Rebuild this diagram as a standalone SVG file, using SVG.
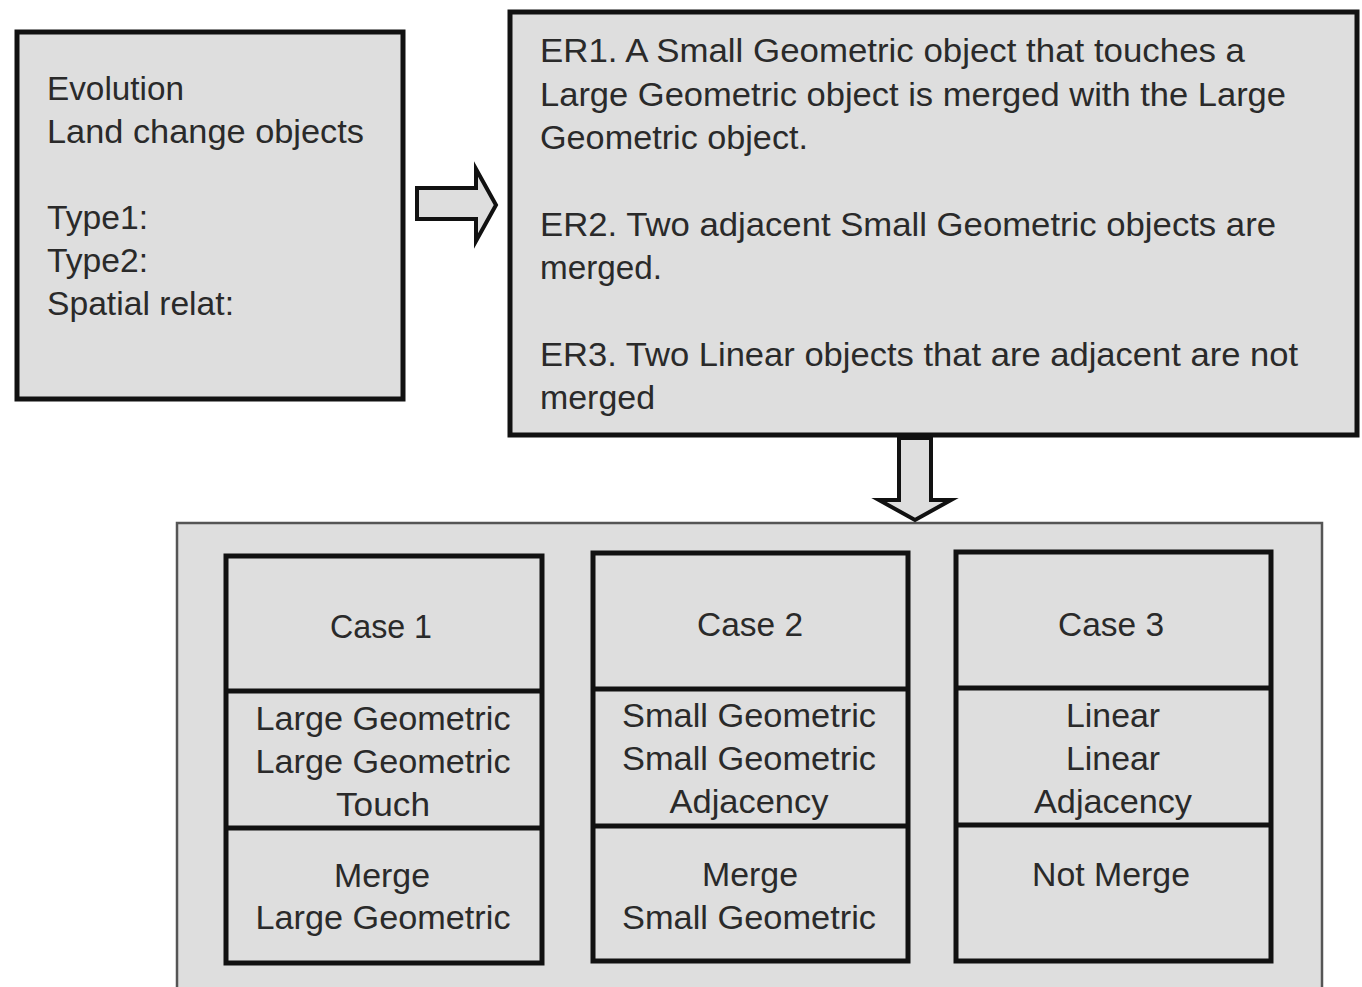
<svg xmlns="http://www.w3.org/2000/svg" width="1362" height="987" viewBox="0 0 1362 987">
<style>
  .box{fill:#dedede;stroke:#111;stroke-width:5}
  .outer{fill:#dedede;stroke:#555;stroke-width:2.5}
  .arr{fill:#dedede;stroke:#111;stroke-width:4;stroke-linejoin:miter}
  text{font-family:"Liberation Sans",Arial,sans-serif;font-size:33px;fill:#2a2a2a}
  .c{text-anchor:middle}
</style>
<rect width="1362" height="987" fill="#ffffff"/>
<g id="evolution">
  <rect class="box" x="17" y="32" width="386" height="367"/>
  <text x="47" y="100" textLength="137" lengthAdjust="spacingAndGlyphs">Evolution</text>
  <text x="47" y="143" textLength="317" lengthAdjust="spacingAndGlyphs">Land change objects</text>
  <text x="47" y="229" textLength="101" lengthAdjust="spacingAndGlyphs">Type1:</text>
  <text x="47" y="272" textLength="101" lengthAdjust="spacingAndGlyphs">Type2:</text>
  <text x="47" y="315" textLength="187" lengthAdjust="spacingAndGlyphs">Spatial relat:</text>
</g>
<g id="rules">
  <rect class="box" x="510" y="12" width="847" height="423" stroke-width="6"/>
  <text x="540" y="62" textLength="705" lengthAdjust="spacingAndGlyphs">ER1. A Small Geometric object that touches a</text>
  <text x="540" y="106" textLength="746" lengthAdjust="spacingAndGlyphs">Large Geometric object is merged with the Large</text>
  <text x="540" y="149" textLength="268" lengthAdjust="spacingAndGlyphs">Geometric object.</text>
  <text x="540" y="236" textLength="736" lengthAdjust="spacingAndGlyphs">ER2. Two adjacent Small Geometric objects are</text>
  <text x="540" y="279" textLength="122" lengthAdjust="spacingAndGlyphs">merged.</text>
  <text x="540" y="366" textLength="758" lengthAdjust="spacingAndGlyphs">ER3. Two Linear objects that are adjacent are not</text>
  <text x="540" y="409" textLength="115" lengthAdjust="spacingAndGlyphs">merged</text>
</g>
<g id="cases-container">
  <rect class="outer" x="177" y="523" width="1145" height="480"/>
</g>
<g id="connectors">
  <path class="arr" d="M417,188 L476,188 L476,169 L496,205 L476,241 L476,219 L417,219 Z"/>
  <path class="arr" d="M899,438 L931,438 L931,500 L951,500 L915,520 L879,500 L899,500 Z"/>
</g>
<g id="case1">
  <rect class="box" x="226" y="556" width="316" height="407"/>
  <line x1="226" y1="691" x2="542" y2="691" stroke="#111" stroke-width="5"/>
  <line x1="226" y1="828" x2="542" y2="828" stroke="#111" stroke-width="5"/>
  <text class="c" x="381" y="638" textLength="102" lengthAdjust="spacingAndGlyphs">Case 1</text>
  <text class="c" x="383" y="730" textLength="255" lengthAdjust="spacingAndGlyphs">Large Geometric</text>
  <text class="c" x="383" y="773" textLength="255" lengthAdjust="spacingAndGlyphs">Large Geometric</text>
  <text class="c" x="383" y="816" textLength="94" lengthAdjust="spacingAndGlyphs">Touch</text>
  <text class="c" x="382" y="887" textLength="96" lengthAdjust="spacingAndGlyphs">Merge</text>
  <text class="c" x="383" y="929" textLength="255" lengthAdjust="spacingAndGlyphs">Large Geometric</text>
</g>
<g id="case2">
  <rect class="box" x="593" y="553" width="315" height="408"/>
  <line x1="593" y1="689" x2="908" y2="689" stroke="#111" stroke-width="5"/>
  <line x1="593" y1="826" x2="908" y2="826" stroke="#111" stroke-width="5"/>
  <text class="c" x="750" y="636" textLength="106" lengthAdjust="spacingAndGlyphs">Case 2</text>
  <text class="c" x="749" y="727" textLength="254" lengthAdjust="spacingAndGlyphs">Small Geometric</text>
  <text class="c" x="749" y="770" textLength="254" lengthAdjust="spacingAndGlyphs">Small Geometric</text>
  <text class="c" x="749" y="813" textLength="159" lengthAdjust="spacingAndGlyphs">Adjacency</text>
  <text class="c" x="750" y="886" textLength="96" lengthAdjust="spacingAndGlyphs">Merge</text>
  <text class="c" x="749" y="929" textLength="254" lengthAdjust="spacingAndGlyphs">Small Geometric</text>
</g>
<g id="case3">
  <rect class="box" x="956" y="552" width="315" height="409"/>
  <line x1="956" y1="688" x2="1271" y2="688" stroke="#111" stroke-width="5"/>
  <line x1="956" y1="825" x2="1271" y2="825" stroke="#111" stroke-width="5"/>
  <text class="c" x="1111" y="636" textLength="106" lengthAdjust="spacingAndGlyphs">Case 3</text>
  <text class="c" x="1113" y="727" textLength="94" lengthAdjust="spacingAndGlyphs">Linear</text>
  <text class="c" x="1113" y="770" textLength="94" lengthAdjust="spacingAndGlyphs">Linear</text>
  <text class="c" x="1113" y="813" textLength="158" lengthAdjust="spacingAndGlyphs">Adjacency</text>
  <text class="c" x="1111" y="886" textLength="158" lengthAdjust="spacingAndGlyphs">Not Merge</text>
</g>
</svg>
